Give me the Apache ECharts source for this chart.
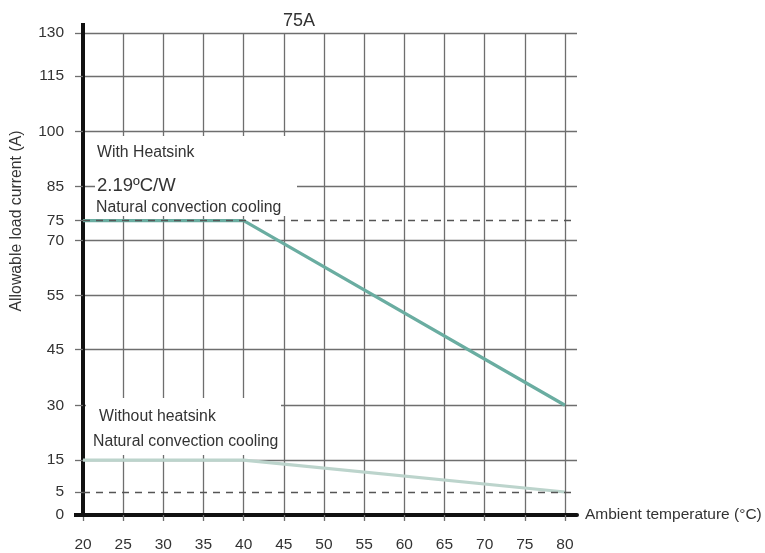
<!DOCTYPE html>
<html><head><meta charset="utf-8">
<script src="https://cdn.jsdelivr.net/npm/echarts@6/dist/echarts.min.js"></script>
<style>html,body{margin:0;padding:0;background:#fff}#c{width:765px;height:553px}</style>
</head><body><div id="c"></div>
<script>
// ---- data ----
const temps = [20, 40, 80];
const withHeatsink = [75, 75, 30];
const withoutHeatsink = [15, 15, 5];
const xTicks = [20, 25, 30, 35, 40, 45, 50, 55, 60, 65, 70, 75, 80];
const yTicks = [0, 5, 15, 30, 45, 55, 70, 75, 85, 100, 115, 130];
// the printed current scale is not evenly spaced: slot of each tick on a 0..130 track
const yTickSlots = [0, 6.2, 14.8, 29.6, 44.7, 59.2, 74.0, 79.4, 88.6, 103.4, 118.4, 130];
const refLevels = [75, 5];

function warp(v) {
  for (let i = 1; i < yTicks.length; i++) {
    if (v <= yTicks[i]) {
      const t = (v - yTicks[i - 1]) / (yTicks[i] - yTicks[i - 1]);
      return yTickSlots[i - 1] + t * (yTickSlots[i] - yTickSlots[i - 1]);
    }
  }
  return yTickSlots[yTickSlots.length - 1];
}
function slotLabel(s) {
  let best = 0;
  for (let i = 0; i < yTickSlots.length; i++) {
    if (Math.abs(yTickSlots[i] - s) < Math.abs(yTickSlots[best] - s)) best = i;
  }
  return String(yTicks[best]);
}

const FONT = 'Liberation Sans, Arial, sans-serif';
const TXT = '#333';
const GRID = '#6e6e6e';
// reference levels are drawn dashed instead of as solid grid lines
const ySplitColors = yTicks.map(v => refLevels.indexOf(v) >= 0 ? 'rgba(0,0,0,0)' : GRID);

const chart = echarts.init(document.getElementById('c'), null, { renderer: 'canvas' });
chart.setOption({
  animation: false,
  backgroundColor: '#fff',
  grid: { left: 83, right: 188, top: 33, bottom: 37, containLabel: false },
  xAxis: {
    type: 'value', min: 20, max: 81.5, interval: 5,
    name: 'Ambient temperature (°C)', nameLocation: 'end', nameGap: 8,
    nameTextStyle: { color: TXT, fontSize: 15.5, fontFamily: FONT },
    axisLine: { lineStyle: { color: '#111', width: 4 }, symbol: ['rect', 'none'], symbolSize: [4, 18] },
    axisTick: { show: true, length: 6, customValues: xTicks, lineStyle: { color: GRID, width: 1.3 } },
    axisLabel: { customValues: xTicks, margin: 22, color: TXT, fontSize: 15.5, fontFamily: FONT },
    splitLine: { show: true, lineStyle: { color: GRID, width: 1.3 } }
  },
  yAxis: {
    type: 'value', min: 0, max: 130,
    axisLine: { show: true, lineStyle: { color: '#111', width: 4 }, symbol: ['none', 'rect'], symbolSize: [4, 20] },
    axisTick: { show: true, length: 8, customValues: yTickSlots, lineStyle: { color: GRID, width: 1.3 } },
    axisLabel: { customValues: yTickSlots, margin: 19, color: TXT, fontSize: 15.5, fontFamily: FONT,
      formatter: (v) => slotLabel(v) },
    splitLine: { show: true, lineStyle: { color: ySplitColors, width: 1.3 } }
  },
  graphic: [
    { type: 'rect', z: 1, silent: true, shape: { x: 95, y: 136, width: 202, height: 80 }, style: { fill: '#fff' } },
    { type: 'rect', z: 1, silent: true, shape: { x: 86, y: 398, width: 195, height: 57 }, style: { fill: '#fff' } },
    { type: 'text', z: 10, x: 299, y: 21, style: { text: '75A', fill: TXT, font: '18px ' + FONT, textAlign: 'center', textVerticalAlign: 'middle' } },
    { type: 'text', z: 10, x: 17, y: 221, rotation: Math.PI / 2, style: { text: 'Allowable load current (A)', fill: TXT, font: '15.8px ' + FONT, textAlign: 'center', textVerticalAlign: 'middle' } },
    { type: 'text', z: 10, x: 97, y: 153, style: { text: 'With Heatsink', fill: TXT, font: '15.8px ' + FONT, textVerticalAlign: 'middle' } },
    { type: 'text', z: 10, x: 97, y: 186, style: { text: '2.19ºC/W', fill: TXT, font: '18.5px ' + FONT, textVerticalAlign: 'middle' } },
    { type: 'text', z: 10, x: 96, y: 208, style: { text: 'Natural convection cooling', fill: TXT, font: '15.8px ' + FONT, textVerticalAlign: 'middle' } },
    { type: 'text', z: 10, x: 99, y: 417, style: { text: 'Without heatsink', fill: TXT, font: '15.8px ' + FONT, textVerticalAlign: 'middle' } },
    { type: 'text', z: 10, x: 93, y: 442, style: { text: 'Natural convection cooling', fill: TXT, font: '15.8px ' + FONT, textVerticalAlign: 'middle' } }
  ],
  series: [
    {
      name: 'ref', type: 'line', data: [], z: 1, silent: true,
      markLine: {
        silent: true, symbol: ['none', 'none'], label: { show: false },
        lineStyle: { type: [7, 6], color: '#555', width: 1.3 },
        data: refLevels.map(v => ({ yAxis: warp(v) }))
      }
    },
    {
      name: 'With heatsink', type: 'line', z: 3, symbol: 'none',
      lineStyle: { color: '#6aada1', width: 3.2 },
      data: temps.map((t, i) => [t, warp(withHeatsink[i])])
    },
    {
      name: 'Without heatsink', type: 'line', z: 3, symbol: 'none',
      lineStyle: { color: '#bcd4cc', width: 3.2 },
      data: temps.map((t, i) => [t, warp(withoutHeatsink[i])])
    }
  ]
});
</script></body></html>
